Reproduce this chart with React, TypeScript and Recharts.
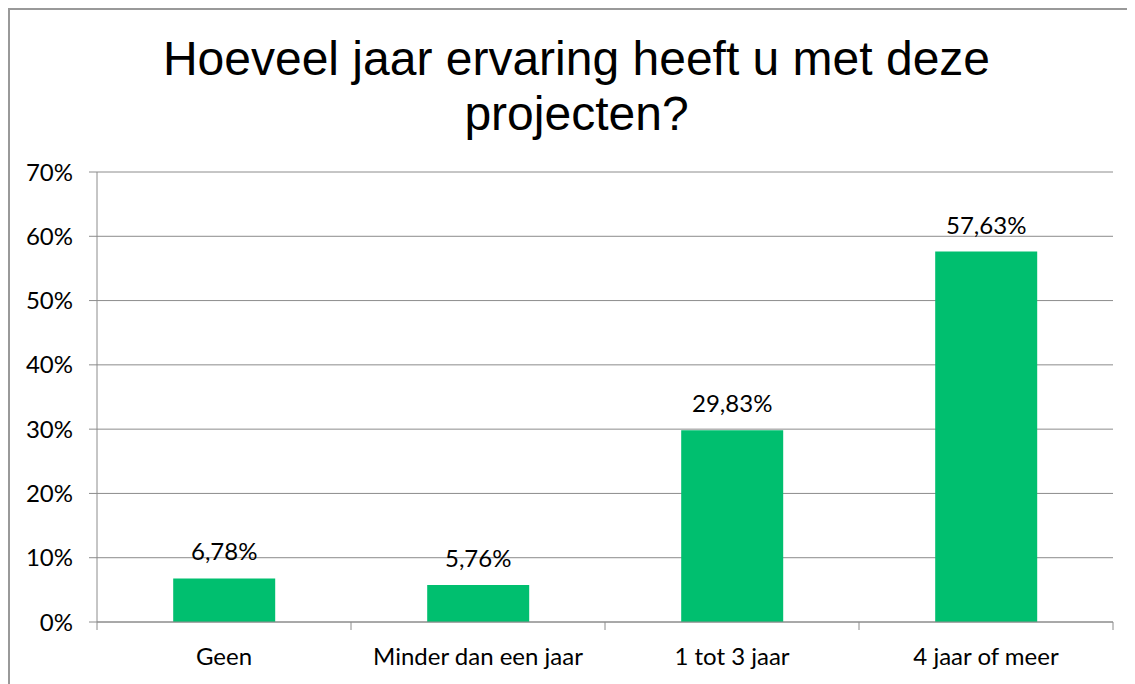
import { Bar, BarChart, CartesianGrid, LabelList, XAxis, YAxis } from "recharts";

const categories = ["Geen", "Minder dan een jaar", "1 tot 3 jaar", "4 jaar of meer"];
const shares = [6.78, 5.76, 29.83, 57.63];
const yTicks = [0, 10, 20, 30, 40, 50, 60, 70];

const data = categories.map((name, i) => ({ name, value: shares[i] }));

const AXIS_GRAY = "#8c8c8c";
const BAR_GREEN = "#00bf6f";
const FONT = "Lato, 'Open Sans', sans-serif";

const pct = (v: number) => `${v.toFixed(2).replace(".", ",")}%`;

// category labels plus tick marks on the boundaries between categories
// eslint-disable-next-line @typescript-eslint/no-explicit-any
function CategoryTick(props: any) {
  const { x, y, payload, index } = props;
  const half = payload?.offset ?? 127;
  const axisY = y - 26;
  return (
    <g>
      <line x1={x - half} x2={x - half} y1={axisY} y2={axisY + 8} stroke={AXIS_GRAY} />
      {index === categories.length - 1 && (
        <line x1={x + half} x2={x + half} y1={axisY} y2={axisY + 8} stroke={AXIS_GRAY} />
      )}
      <text x={x} y={y} dy="0.71em" textAnchor="middle" fontSize={24} fill="#000" fontFamily={FONT}>
        {payload.value}
      </text>
    </g>
  );
}

export default function App() {
  return (
    <div
      style={{
        position: "relative",
        width: 1127,
        height: 676,
        borderTop: "2px solid #999",
        borderLeft: "2px solid #999",
        boxSizing: "border-box",
        background: "#fff",
        overflow: "hidden",
      }}
    >
      <div
        style={{
          position: "absolute",
          left: 0,
          width: 1133,
          top: 21,
          textAlign: "center",
          fontFamily: "'Liberation Sans', Arial, sans-serif",
          fontSize: 48,
          lineHeight: "55px",
          color: "#000",
        }}
      >
        Hoeveel jaar ervaring heeft u met deze
        <br />
        projecten?
      </div>
      <BarChart
        width={1125}
        height={674}
        data={data}
        margin={{ top: 162, right: 22, bottom: 12, left: 7 }}
        barCategoryGap="30%"
      >
        <CartesianGrid vertical={false} stroke={AXIS_GRAY} />
        <XAxis
          dataKey="name"
          height={50}
          axisLine={{ stroke: AXIS_GRAY }}
          tickLine={false}
          tickSize={8}
          tickMargin={18}
          tick={<CategoryTick />}
          interval={0}
        />
        <YAxis
          width={80}
          domain={[0, 70]}
          ticks={yTicks}
          tickFormatter={(v: number) => `${v}%`}
          axisLine={{ stroke: AXIS_GRAY }}
          tickLine={{ stroke: AXIS_GRAY }}
          tickSize={8}
          tickMargin={16}
          tick={{ fontSize: 24, fill: "#000", fontFamily: FONT }}
        />
        <Bar dataKey="value" fill={BAR_GREEN} isAnimationActive={false}>
          <LabelList
            dataKey="value"
            position="top"
            offset={18}
            formatter={(v: number) => pct(v)}
            style={{ fontSize: 24, fill: "#000", fontFamily: FONT }}
          />
        </Bar>
      </BarChart>
    </div>
  );
}
